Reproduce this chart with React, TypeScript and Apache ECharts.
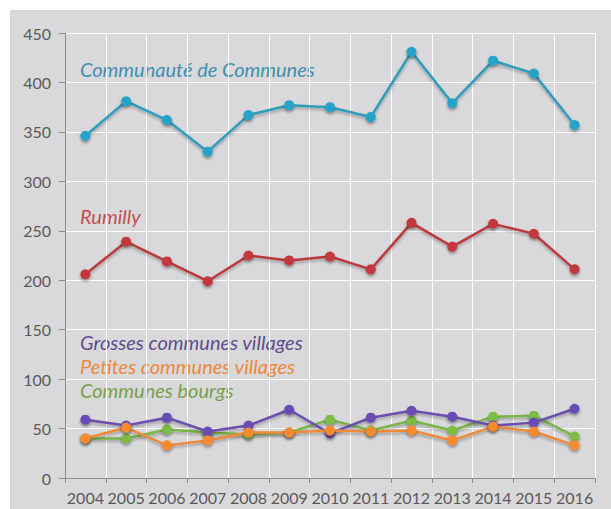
import React, { useEffect, useRef } from "react";
import * as echarts from "echarts";

const years = ["2004", "2005", "2006", "2007", "2008", "2009", "2010", "2011", "2012", "2013", "2014", "2015", "2016"];
const communaute = [346, 381, 362, 330, 367, 377, 375, 365, 431, 379, 422, 409, 357];
const rumilly = [206, 239, 219, 199, 225, 220, 224, 211, 258, 234, 257, 247, 211];
const grosses = [59, 53, 61, 47, 53, 69, 45, 61, 68, 62, 53, 56, 70];
const petites = [40, 51, 33, 38, 46, 46, 48, 47, 48, 38, 52, 47, 33];
const bourgs = [40, 40, 49, 46, 44, 46, 59, 48, 58, 48, 62, 63, 42];

const seriesNames = [
  "Communauté de Communes",
  "Rumilly",
  "Grosses communes villages",
  "Petites communes villages",
  "Communes bourgs",
];

const FONT = "Lato, 'Open Sans', sans-serif";

export default function App() {
  const ref = useRef<HTMLDivElement>(null);
  useEffect(() => {
    if (!ref.current) return;
    const chart = echarts.init(ref.current, undefined, { renderer: "svg" });
    const mk = (name: string, data: number[], color: string, lineColor: string) => ({
      name,
      type: "line",
      data,
      symbol: "circle",
      symbolSize: 10,
      lineStyle: {
        color: lineColor,
        width: 2.5,
        shadowBlur: 3,
        shadowColor: "rgba(0,0,0,0.3)",
        shadowOffsetY: 2,
      },
      itemStyle: {
        color,
        shadowBlur: 3,
        shadowColor: "rgba(0,0,0,0.4)",
        shadowOffsetY: 2,
      },
      emphasis: { disabled: true },
    });
    const label = (text: string, y: number, color: string) => ({
      type: "text",
      x: 80,
      y,
      silent: true,
      style: {
        text,
        fill: color,
        font: `italic 20px ${FONT}`,
        verticalAlign: "middle",
        align: "left",
      },
    });
    chart.setOption({
      animation: false,
      backgroundColor: "transparent",
      grid: { left: 65, right: 16, top: 33, bottom: 31, containLabel: false },
      xAxis: {
        type: "category",
        data: years,
        boundaryGap: true,
        axisLine: { lineStyle: { color: "#8c8c8c", width: 1 } },
        axisTick: { show: true, length: 5, lineStyle: { color: "#8c8c8c" } },
        axisLabel: { color: "#595959", fontSize: 16, fontFamily: FONT, margin: 11, interval: 0 },
        splitLine: { show: true, lineStyle: { color: "#ffffff", width: 1 } },
      },
      yAxis: {
        type: "value",
        min: 0,
        max: 450,
        interval: 50,
        axisLine: { show: true, lineStyle: { color: "#8c8c8c", width: 1 } },
        axisTick: { show: true, length: 6, lineStyle: { color: "#8c8c8c" } },
        axisLabel: { color: "#595959", fontSize: 16, fontFamily: FONT, margin: 14 },
        splitLine: { show: true, lineStyle: { color: "#ffffff", width: 1 } },
      },
      graphic: [
        label(seriesNames[0], 69, "#3f8fae"),
        label(seriesNames[1], 216, "#c0504d"),
        label(seriesNames[2], 342, "#5e4e8e"),
        label(seriesNames[3], 366, "#ee873a"),
        label(seriesNames[4], 390, "#78a04a"),
      ],
      series: [
        mk(seriesNames[0], communaute, "#25a3c8", "#2f9dbd"),
        mk(seriesNames[1], rumilly, "#c4393c", "#bb3a3d"),
        mk(seriesNames[4], bourgs, "#7dbc44", "#7ab548"),
        mk(seriesNames[2], grosses, "#6b4bb6", "#6a4fae"),
        mk(seriesNames[3], petites, "#f7892f", "#f08a3a"),
      ],
    });
    return () => chart.dispose();
  }, []);
  return (
    <div style={{ position: "absolute", left: 0, top: 0, width: 611, height: 509, background: "#ffffff" }}>
      <div style={{ position: "absolute", left: 10, top: 10, right: 0, bottom: 0, background: "#d9d9db" }} />
      <div ref={ref} style={{ position: "absolute", left: 0, top: 0, width: 611, height: 509 }} />
    </div>
  );
}
